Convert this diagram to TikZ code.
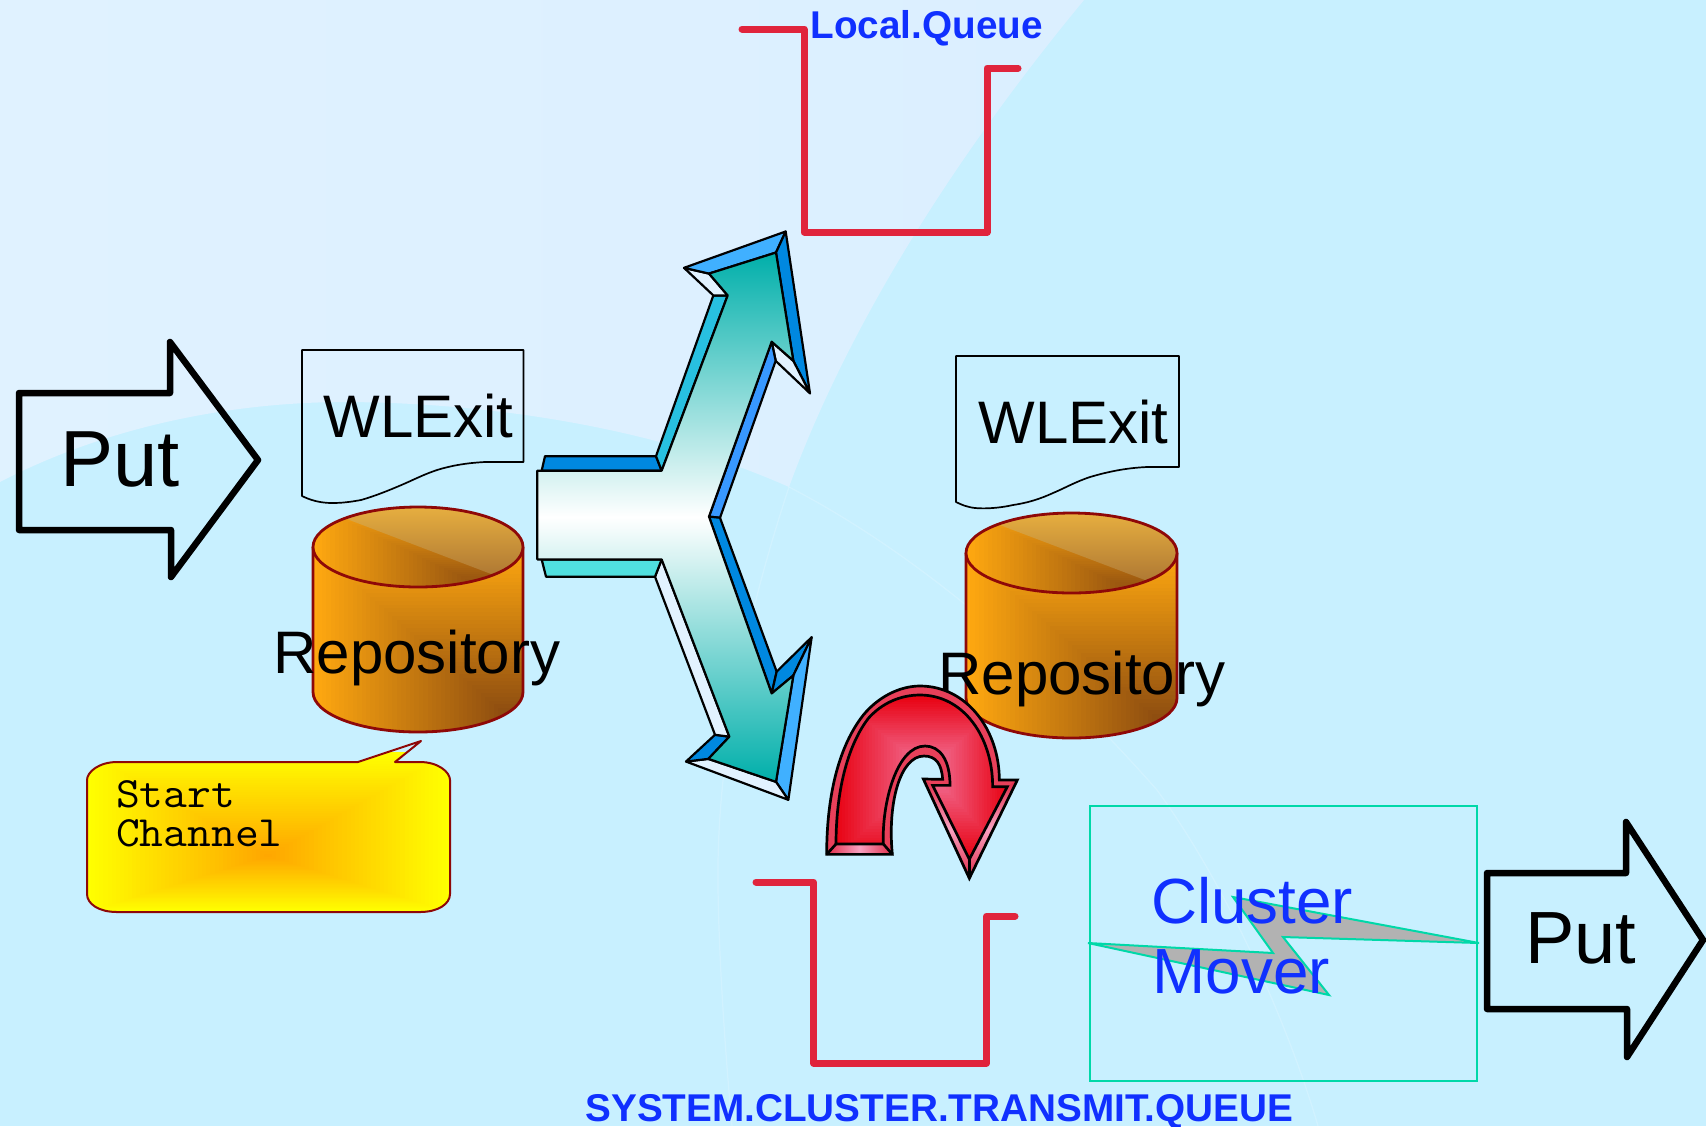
\documentclass[tikz,border=0pt]{standalone}
\usepackage{fontspec}
\setmainfont{Liberation Sans}
\setmonofont[FakeStretch=1.07]{Latin Modern Mono}
\definecolor{bgbase}{HTML}{C8F0FF}
\definecolor{bglightA}{HTML}{E0F2FF}
\definecolor{bglightB}{HTML}{DBEFFF}
\definecolor{queuered}{HTML}{E0243C}
\definecolor{labelblue}{HTML}{1030FF}
\definecolor{greenedge}{HTML}{00D8A8}
\definecolor{cylred}{HTML}{8E0808}
\definecolor{cylA}{HTML}{FFA810}
\definecolor{cylB}{HTML}{8A4A10}
\definecolor{lidA}{HTML}{E8B040}
\definecolor{lidB}{HTML}{A06A30}
\definecolor{bubA}{HTML}{FFFF00}
\definecolor{bubB}{HTML}{FFA500}
\definecolor{bevDark}{HTML}{0088E0}
\definecolor{bevLight}{HTML}{40B0FF}
\definecolor{bevCyan}{HTML}{28C0E0}
\definecolor{bevTurq}{HTML}{50E0E0}
\definecolor{bevMid}{HTML}{3898FF}
\definecolor{bevWhite}{HTML}{E2F2FF}
\definecolor{forkTeal}{HTML}{00AFAA}
\definecolor{curRed}{HTML}{E80010}
\definecolor{curPink}{HTML}{F27AA2}
\definecolor{curBev}{HTML}{E8405A}
\definecolor{curBevEnd}{HTML}{E02C48}
\definecolor{curBevMid}{HTML}{F9A0C0}
\newcommand\rectgrad[9]{%
  \foreach \gradi in {0,...,#9}{%
    \pgfmathsetmacro\gradq{1-\gradi/#9}%
    \pgfmathsetmacro\gradp{100*\gradi/#9}%
    \pgfmathsetmacro\gradxa{#1-(#1-#3)*\gradq}%
    \pgfmathsetmacro\gradya{#2-(#2-#4)*\gradq}%
    \pgfmathsetmacro\gradxb{#1+(#5-#1)*\gradq}%
    \pgfmathsetmacro\gradyb{#2+(#6-#2)*\gradq}%
    \fill[color=#8!\gradp!#7] (\gradxa,\gradya) rectangle (\gradxb,\gradyb);%
  }%
}
% #1 left x, #2 right x, #3 top-lid centre y, #4 bottom-arc centre y
\newcommand\repocyl[4]{%
  \pgfmathsetmacro\cylcx{(#1+#2)/2}%
  \pgfmathsetmacro\cylrx{(#2-#1)/4}% half of the pixel radius = pt
  \pgfmathsetmacro\cyltop{#3-42}%
  \pgfmathsetmacro\cylkx{#2-16}%
  \pgfmathsetmacro\cylky{#4+24}%
  \pgfmathsetmacro\cylfr{2*\cylkx-#1}%
  \pgfmathsetmacro\cylfb{2*\cylky-#3}%
  \pgfmathsetmacro\lidbot{#3+42}%
  \begin{scope}
    \clip (#1,#3) -- (#1,#4) arc[start angle=180,end angle=360,x radius=\cylrx pt,y radius=20pt] -- (#2,#3) -- cycle;
    \rectgrad{\cylkx}{\cylky}{#1}{#3}{\cylfr}{\cylfb}{cylA}{cylB}{44}
  \end{scope}
  \draw[cylline] (#1,#3) -- (#1,#4) arc[start angle=180,end angle=360,x radius=\cylrx pt,y radius=20pt] -- (#2,#3);
  \begin{scope}
    \clip (\cylcx,#3) ellipse[x radius=\cylrx pt,y radius=20pt];
    \pgfmathsetmacro\cylkx{#2-36}%
    \pgfmathsetmacro\cylfr{2*\cylkx-#1}%
    \rectgrad{\cylkx}{\lidbot}{#1}{\cyltop}{\cylfr}{\lidbot}{cylA}{cylB}{40}
    \pgfmathsetmacro\lidxa{#1+18}%
    \pgfmathsetmacro\lidxb{#2+18}%
    \pgfmathsetmacro\lidya{#3-34}%
    \pgfmathsetmacro\lidyb{#3+46}%
    \shade[top color=lidA,bottom color=lidB] (\lidxa,\lidya) -- (\lidxb,\lidyb) -- (\lidxb,\cyltop) -- (\lidxa,\cyltop) -- cycle;
  \end{scope}
  \draw[cylline] (\cylcx,#3) ellipse[x radius=\cylrx pt,y radius=20pt];
}
\tikzset{
  x=0.5pt,y=-0.5pt,
  cylline/.style={draw=cylred,line width=1.4pt,line join=round},
  doc/.style={draw=black,line width=0.85pt,line join=round},
  putarrow/.style={draw=black,line width=3.25pt,line join=round},
  queue/.style={draw=queuered,line width=3.5pt,line join=round,line cap=round},
  bev/.style={draw=black,line width=1.1pt,line join=round},
  cur/.style={draw=black,line width=1.35pt,line join=miter},
  txt/.style={anchor=base west,inner sep=0pt,outer sep=0pt},
  bigtxt/.style={txt,font=\fontsize{30}{36}\selectfont},
  bluetxt/.style={txt,text=labelblue,font=\fontsize{31.9}{38}\selectfont},
  boldtxt/.style={txt,text=labelblue,font=\bfseries\fontsize{19.35}{23}\selectfont},
  monotxt/.style={txt,font=\ttfamily\fontsize{21.6}{25}\selectfont},
}
\begin{document}
\begin{tikzpicture}
\useasboundingbox (0,0) rectangle (1706,1126);
% background
\fill[bgbase] (0,0) rectangle (1706,1126);
\shade[left color=bglightA,right color=bglightB]
  (0,0) -- (1084,0) .. controls (960,150) and (850,320) .. (789,487)
  .. controls (650,425) and (480,402) .. (340,402)
  .. controls (220,403) and (100,430) .. (0,482) -- cycle;
\draw[white,opacity=.18,line width=.6pt] (789,487) .. controls (745,620) and (716,760) .. (718,888) .. controls (719,960) and (725,1050) .. (732,1126);
\draw[white,opacity=.18,line width=.6pt] (789,487) .. controls (930,560) and (1060,680) .. (1157,790) .. controls (1230,890) and (1290,1030) .. (1318,1126);

% queues
\draw[queue] (742,29) -- (804,29) -- (804,232) -- (987,232) -- (987,68) -- (1018,68);
\draw[queue] (756,882) -- (813.5,882) -- (813.5,1063) -- (986.5,1063) -- (986.5,916) -- (1015,916);
\node[boldtxt] (localq) at (810.5,38) {Local.Queue};
\node[boldtxt] (xmitq) at (585.5,1121) {SYSTEM.CLUSTER.TRANSMIT.QUEUE};

% left put
\draw[putarrow] (19,393) -- (170,393) -- (170,342) -- (258,460) -- (171,577) -- (171,530) -- (19,530) -- cycle;
\node[txt,font=\fontsize{39.8}{46}\selectfont] (putA) at (60,486) {Put};

% documents
\draw[doc] (302,350) -- (523.5,350) -- (523.5,462) -- (485,462) .. controls (465,463) and (450,466) .. (437,470) .. controls (425,474) and (415,479) .. (406,483) .. controls (390,490) and (375,496) .. (361,500) .. controls (350,502) and (342,503) .. (332,503) .. controls (320,503) and (310,500) .. (302,496) -- cycle;
\node[bigtxt] (wlA) at (323.5,437) {WLExit};
\draw[doc] (956,356) -- (1179,356) -- (1179,467) -- (1147,467) .. controls (1125,468) and (1107,472) .. (1090,477) .. controls (1075,482) and (1065,488) .. (1053,493) .. controls (1040,499) and (1027,503) .. (1013,505) .. controls (1000,508) and (985,509) .. (975,508) .. controls (967,507) and (962,505) .. (956,502) -- cycle;
\node[bigtxt] (wlB) at (978.5,443) {WLExit};

% cylinders
\repocyl{313}{523}{547}{692}
\node[bigtxt] (repoA) at (273.5,673) {Repository};
\repocyl{966}{1177}{553}{698}
\node[bigtxt] (repoB) at (938.5,694) {Repository};

% speech bubble
\def\bubblepath{(117,762) -- (358,762) -- (421,741) -- (395,762) -- (420,762) .. controls (438,762) and (450,772) .. (450,780) -- (450,894) .. controls (450,904) and (438,912) .. (420,912) -- (117,912) .. controls (99,912) and (87,904) .. (87,894) -- (87,780) .. controls (87,772) and (99,762) .. (117,762) -- cycle}
\begin{scope}
  \clip \bubblepath;
  \rectgrad{268}{856}{87}{752}{450}{912}{bubA}{bubB}{44}
\end{scope}
\draw[cylline,line width=1pt] \bubblepath;
\node[monotxt] (startT) at (116,807) {Start};
\node[monotxt] (chanT) at (116,846) {Channel};

% three-way arrow
\begin{scope}[shift={(520,220)},xscale=1/3,yscale=1/2.613]
  \filldraw[bev,fill=bevDark] (75,617) -- (408,617) -- (425,655) -- (65,655) -- cycle;
  \filldraw[bev,fill=bevCyan] (408,617) -- (580,197) -- (623,197) -- (425,655) -- cycle;
  \filldraw[bev,fill=bevWhite] (492,125) -- (567,140) -- (623,197) -- (580,197) -- cycle;
  \filldraw[bev,fill=bevLight] (492,125) -- (797,30) -- (768,85) -- (567,140) -- cycle;
  \filldraw[bev,fill=bevDark] (797,30) -- (870,453) -- (820,368) -- (768,85) -- cycle;
  \filldraw[bev,fill=bevWhite] (870,453) -- (767,368) -- (755,318) -- (820,368) -- cycle;
  \filldraw[bev,fill=bevMid] (755,318) -- (767,368) -- (600,778) -- (567,775) -- cycle;
  \filldraw[bev,fill=bevDark] (567,775) -- (600,778) -- (770,1180) -- (755,1237) -- cycle;
  \filldraw[bev,fill=bevDark] (755,1237) -- (770,1180) -- (875,1090) -- (820,1190) -- cycle;
  \filldraw[bev,fill=bevLight] (875,1090) -- (805,1515) -- (768,1468) -- (820,1190) -- cycle;
  \filldraw[bev,fill=bevWhite] (805,1515) -- (498,1415) -- (565,1408) -- (768,1468) -- cycle;
  \filldraw[bev,fill=bevDark] (498,1415) -- (585,1345) -- (628,1350) -- (565,1408) -- cycle;
  \filldraw[bev,fill=bevWhite] (628,1350) -- (585,1345) -- (405,932) -- (425,887) -- cycle;
  \filldraw[bev,fill=bevTurq] (405,932) -- (425,887) -- (65,887) -- (78,932) -- cycle;
  \def\forkfront{(52,655) -- (425,655) -- (623,197) -- (567,140) -- (768,85) -- (820,368) -- (755,318) -- (567,775) -- (755,1237) -- (820,1190) -- (768,1468) -- (565,1408) -- (628,1350) -- (425,887) -- (52,887) -- cycle}
  \shade[top color=forkTeal,bottom color=forkTeal,middle color=white] \forkfront;
  \draw[bev] \forkfront;
\end{scope}

% curved red arrow
\begin{scope}[shift={(800,670)},scale=1/3]
  \def\curback{(80,553) .. controls (80,380) and (115,230) .. (190,135) .. controls (235,80) and (300,48) .. (360,48) .. controls (500,48) and (598,180) .. (598,330) -- (652,330) -- (508,625) -- (370,327) -- (428,328) .. controls (425,285) and (410,258) .. (372,258) .. controls (300,258) and (262,400) .. (277,553) -- cycle}
  \def\curfront{(108,522) .. controls (108,370) and (140,230) .. (205,145) .. controls (245,100) and (300,75) .. (360,75) .. controls (490,75) and (578,200) .. (578,350) -- (622,350) -- (508,568) -- (398,346) -- (450,346) .. controls (450,270) and (420,228) .. (375,228) .. controls (290,228) and (245,400) .. (250,522) -- cycle}
  \fill[curBev] \curback;
  \shade[left color=curBevEnd,right color=curBevEnd,middle color=curBevMid] (80,553) -- (277,553) -- (250,522) -- (108,522) -- cycle;
  \shade[top color=curBevEnd,bottom color=curBevEnd,middle color=curBevMid] (370,327) -- (398,346) -- (508,568) -- (508,625) -- cycle;
  \shade[top color=curBevEnd,bottom color=curBevEnd,middle color=curBevMid] (652,330) -- (622,350) -- (508,568) -- (508,625) -- cycle;
  \begin{scope}
    \clip \curfront;
    \rectgrad{385}{300}{100}{75}{630}{570}{curRed}{curPink}{32}
  \end{scope}
  \draw[cur] \curback;
  \draw[cur] \curfront;
  \draw[cur] (80,553) -- (108,522);
  \draw[cur] (277,553) -- (250,522);
  \draw[cur] (508,568) -- (508,625);
\end{scope}

% cluster mover
\draw[draw=greenedge,line width=1pt] (1090,806) rectangle (1477,1081);
\filldraw[fill=black!30,draw=greenedge,line width=1pt,line join=miter] (1088,943) -- (1273,953) -- (1233,897) -- (1479,943) -- (1283,937) -- (1329,995) -- cycle;
\node[bluetxt] (clusterT) at (1151,923) {Cluster};
\node[bluetxt] (moverT) at (1152.5,993) {Mover};

% right put
\draw[putarrow] (1487,873) -- (1626,873) -- (1626,822) -- (1703,940) -- (1627,1057) -- (1627,1009) -- (1487,1009) -- cycle;
\node[txt,font=\fontsize{37}{44}\selectfont] (putB) at (1525,963) {Put};
\end{tikzpicture}
\end{document}
